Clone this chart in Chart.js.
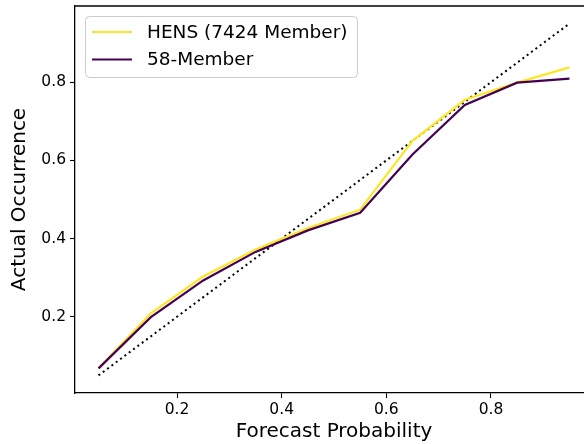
<!DOCTYPE html>
<html>
<head>
<meta charset="utf-8">
<script src="https://cdn.jsdelivr.net/npm/chart.js@4/dist/chart.umd.min.js"></script>
<style>
  html, body { margin: 0; padding: 0; background: #fff; overflow: hidden; }
  canvas { display: block; }
</style>
</head>
<body>
<canvas id="reliability" width="620" height="444"></canvas>
<script>
// forecast probability bins (bin centres)
const probBins = [0.05, 0.15, 0.25, 0.35, 0.45, 0.55, 0.65, 0.75, 0.85, 0.95];
const hensValues = [0.068, 0.209, 0.303, 0.372, 0.427, 0.474, 0.650, 0.755, 0.799, 0.838];
const member58Values = [0.068, 0.199, 0.293, 0.366, 0.421, 0.466, 0.615, 0.742, 0.799, 0.809];
// perfect reliability line
const diagonalX = [0.05, 0.95];
const diagonalY = [0.05, 0.95];
const tickValues = [0.2, 0.4, 0.6, 0.8];
const seriesLabels = ['HENS (7424 Member)', '58-Member'];

const FONT = 'DejaVu Sans';

const toPoints = (xs, ys) => xs.map((x, i) => ({ x: x, y: ys[i] }));

// top and right spines (chart.js only draws the axis borders)
const frame = {
    id: 'frame',
    afterDraw(chart) {
        const ctx = chart.ctx;
        const a = chart.chartArea;
        ctx.save();
        ctx.strokeStyle = '#000';
        ctx.lineWidth = 1.3;
        ctx.beginPath();
        ctx.moveTo(a.left, a.top);
        ctx.lineTo(a.right, a.top);
        ctx.lineTo(a.right, a.bottom);
        ctx.stroke();
        ctx.restore();
    }
};

// Draws the legend box inside the plot, top left, like matplotlib does
const insideLegend = {
    id: 'insideLegend',
    afterDatasetsDraw(chart) {
        const ctx = chart.ctx;
        const area = chart.chartArea;
        const items = chart.data.datasets.filter((ds) => ds.label);
        const boxX = area.left + 10;
        const boxY = area.top + 10;
        const boxW = 272;
        const boxH = 61;

        ctx.save();
        ctx.beginPath();
        ctx.roundRect(boxX + 0.5, boxY + 0.5, boxW, boxH, 4);
        ctx.fillStyle = 'rgba(255,255,255,0.8)';
        ctx.fill();
        ctx.strokeStyle = '#cccccc';
        ctx.lineWidth = 1;
        ctx.stroke();

        ctx.font = '18.5px "' + FONT + '"';
        ctx.textBaseline = 'middle';
        ctx.textAlign = 'left';
        items.forEach((ds, i) => {
            const y = boxY + 16 + i * 27.5;
            ctx.beginPath();
            ctx.moveTo(boxX + 7, y);
            ctx.lineTo(boxX + 47, y);
            ctx.strokeStyle = ds.borderColor;
            ctx.lineWidth = 2.2;
            ctx.stroke();
            ctx.fillStyle = '#000';
            ctx.fillText(ds.label, boxX + 62, y + 1);
        });
        ctx.restore();
    }
};

const ctx = document.getElementById('reliability').getContext('2d');

new Chart(ctx, {
    type: 'line',
    data: {
        datasets: [
            {
                data: toPoints(diagonalX, diagonalY),
                borderColor: '#000000',
                borderWidth: 2,
                borderDash: [2, 3.4],
                pointRadius: 0,
                order: 3,
            },
            {
                label: seriesLabels[0],
                data: toPoints(probBins, hensValues),
                borderColor: '#fde725',
                borderWidth: 2.2,
                pointRadius: 0,
                order: 2,
            },
            {
                label: seriesLabels[1],
                data: toPoints(probBins, member58Values),
                borderColor: '#440154',
                borderWidth: 2.2,
                pointRadius: 0,
                order: 1,
            },
        ],
    },
    options: {
        responsive: false,
        animation: false,
        devicePixelRatio: 1,
        layout: {
            padding: { top: 6, right: 27, left: 0, bottom: 0 },
        },
        plugins: {
            legend: { display: false },
            tooltip: { enabled: false },
        },
        scales: {
            x: {
                type: 'linear',
                min: 0.005,
                max: 0.995,
                afterBuildTicks: (scale) => {
                    scale.ticks = tickValues.map((v) => ({ value: v }));
                },
                afterFit: (scale) => {
                    scale.height = 51;
                    scale.paddingLeft = 0;
                    scale.paddingRight = 0;
                },
                ticks: {
                    color: '#000',
                    font: { family: FONT, size: 15.5 },
                    padding: 3,
                    maxRotation: 0,
                    callback: (v) => v.toFixed(1),
                },
                grid: {
                    drawOnChartArea: false,
                    drawTicks: true,
                    tickLength: 5,
                    tickWidth: 1.1,
                    tickColor: '#000',
                },
                border: { display: true, color: '#000', width: 1.3 },
                title: {
                    display: true,
                    text: 'Forecast Probability',
                    color: '#000',
                    font: { family: FONT, size: 20 },
                    padding: { top: 0, bottom: 0 },
                },
            },
            y: {
                type: 'linear',
                min: 0.005,
                max: 0.995,
                afterBuildTicks: (scale) => {
                    scale.ticks = tickValues.map((v) => ({ value: v }));
                },
                afterFit: (scale) => {
                    scale.width = 75;
                    scale.paddingTop = 0;
                    scale.paddingBottom = 0;
                },
                ticks: {
                    color: '#000',
                    font: { family: FONT, size: 15.5 },
                    padding: 4,
                    callback: (v) => v.toFixed(1),
                },
                grid: {
                    drawOnChartArea: false,
                    drawTicks: true,
                    tickLength: 5,
                    tickWidth: 1.1,
                    tickColor: '#000',
                },
                border: { display: true, color: '#000', width: 1.3 },
                title: {
                    display: true,
                    text: 'Actual Occurrence',
                    color: '#000',
                    font: { family: FONT, size: 20 },
                    padding: { top: 8, bottom: 0 },
                },
            },
        },
    },
    plugins: [frame, insideLegend],
});
</script>
</body>
</html>
